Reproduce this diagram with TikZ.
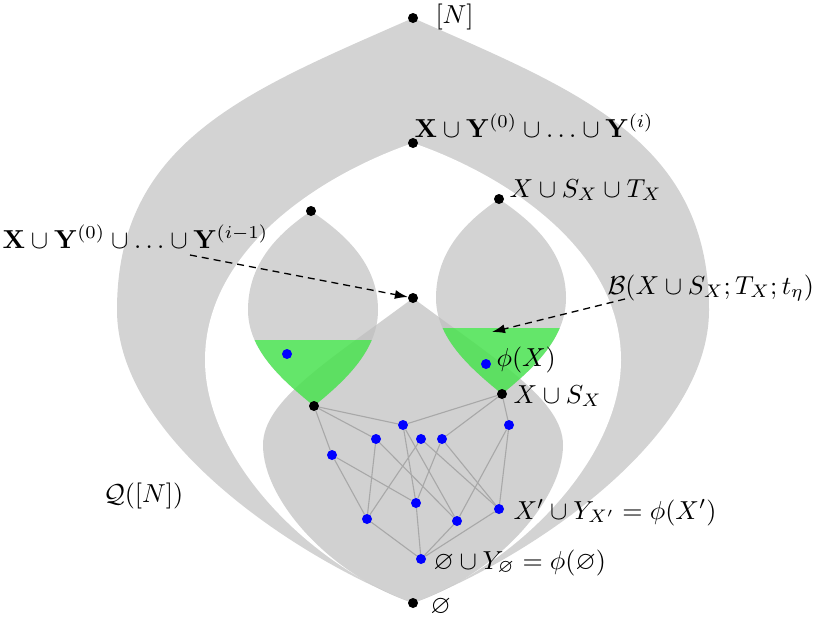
\documentclass[tikz,border=0pt]{standalone}
\usepackage{amsmath,amssymb}
\usetikzlibrary{arrows.meta}
\definecolor{lg}{RGB}{211,211,211}
\definecolor{lgd}{RGB}{190,190,190}
\definecolor{edgegray}{RGB}{168,168,168}
\definecolor{grn}{RGB}{0,248,10}
\begin{document}
\begin{tikzpicture}[x=1pt,y=-1pt,
  lbl/.style={anchor=base west,inner sep=0pt,scale=2.6,font=\normalsize},
  bdot/.style={circle,fill=black,inner sep=0pt,minimum size=10pt},
  udot/.style={circle,fill=blue,inner sep=0pt,minimum size=10pt},
  edgeline/.style={draw=edgegray,line width=1.1pt},
  darrow/.style={draw=black,line width=1.3pt,dash pattern=on 7pt off 5pt,-{Latex[length=13pt,width=9pt]}}]
\useasboundingbox (0,0) rectangle (816,622);
\def\lenspath{(311,211) .. controls (280,232) and (248,262) .. (248,310) .. controls (248,350) and (282,380) .. (314,406) .. controls (346,380) and (378,350) .. (378,310) .. controls (378,262) and (342,232) .. (311,211) -- cycle}
% outer lens
\fill[lg] (413,18) .. controls (250,90) and (117,140) .. (117,310) .. controls (117,440) and (300,560) .. (413,603) .. controls (526,560) and (709,440) .. (709,310) .. controls (709,140) and (576,90) .. (413,18) -- cycle;
% inner white lens
\fill[white] (413,143) .. controls (320,175) and (205,250) .. (205,360) .. controls (205,460) and (310,565) .. (413,603) .. controls (516,565) and (621,460) .. (621,360) .. controls (621,250) and (506,175) .. (413,143) -- cycle;
% small lenses
\fill[lg] \lenspath;
\begin{scope}[shift={(188,-12)}]
\fill[lg] \lenspath;
\end{scope}
% lower shape
\fill[lgd,fill opacity=0.7] (413,298) .. controls (330,360) and (263,400) .. (263,445) .. controls (263,500) and (330,575) .. (413,603) .. controls (496,575) and (563,500) .. (563,445) .. controls (563,400) and (496,360) .. (413,298) -- cycle;
% green parts
\begin{scope}
\clip \lenspath;
\fill[grn,fill opacity=0.52] (240,340) rectangle (390,410);
\end{scope}
\begin{scope}[shift={(188,-12)}]
\clip \lenspath;
\fill[grn,fill opacity=0.52] (240,340) rectangle (390,410);
\end{scope}
% nodes
\node[bdot] (N) at (413,18) {};
\node[bdot] (XYi) at (413,143) {};
\node[bdot] (SLt) at (311,211) {};
\node[bdot] (SRt) at (499,199) {};
\node[bdot] (Lt) at (413,298) {};
\node[bdot] (A) at (314,406) {};
\node[bdot] (B) at (502,394) {};
\node[bdot] (E) at (413,603) {};
\node[udot] (g1) at (287,354) {};
\node[udot] (g2) at (486,364) {};
\node[udot] (n1) at (403,425) {};
\node[udot] (n2) at (376,439) {};
\node[udot] (n3) at (421,439) {};
\node[udot] (n4) at (442,439) {};
\node[udot] (n5) at (509,425) {};
\node[udot] (n6) at (332,455) {};
\node[udot] (m1) at (416,503) {};
\node[udot] (m2) at (367,519) {};
\node[udot] (m3) at (457,521) {};
\node[udot] (m4) at (499,509) {};
\node[udot] (z) at (421,559) {};
% edges
\foreach \a/\b in {A/n1,A/n2,A/n6,B/n1,B/n4,B/n5,n1/m1,n1/m3,n2/m2,n2/m3,n3/m2,n3/m4,n4/m1,n4/m4,n5/m3,n5/m4,n6/m2,n6/m1,m1/z,m2/z,m3/z,m4/z}
  \draw[edgeline] (\a) -- (\b);
% labels
\node[lbl] (lN) at (435,23) {$[N]$};
\node[lbl] (lXYi) at (414,137) {$\mathbf{X}\cup\mathbf{Y}^{(0)}\cup\ldots\cup\mathbf{Y}^{(i)}$};
\node[lbl] (lXST) at (509,197) {$X\cup S_X\cup T_X$};
\node[lbl] (lXYim) at (2,248) {$\mathbf{X}\cup\mathbf{Y}^{(0)}\cup\ldots\cup\mathbf{Y}^{(i-1)}$};
\node[lbl] (lB) at (607,294) {$\mathcal{B}(X\cup S_X;T_X;t_\eta)$};
\node[lbl] (lphi) at (496,366) {$\phi(X)$};
\node[lbl] (lXS) at (513,403) {$X\cup S_X$};
\node[lbl] (lXp) at (513,519) {$X'\cup Y_{X'}=\phi(X')$};
\node[lbl] (lE1) at (433,569) {$\varnothing\cup Y_{\varnothing}=\phi(\varnothing)$};
\node[lbl] (lE) at (430,613) {$\varnothing$};
\node[lbl] (lQ) at (103,502) {$\mathcal{Q}([N])$};
% arrows
\coordinate (a1s) at (190,255);
\coordinate (a2s) at (625,299);
\coordinate (a2e) at (492,332);
\draw[darrow] (a1s) -- (Lt);
\draw[darrow] (a2s) -- (a2e);
\end{tikzpicture}
\end{document}
